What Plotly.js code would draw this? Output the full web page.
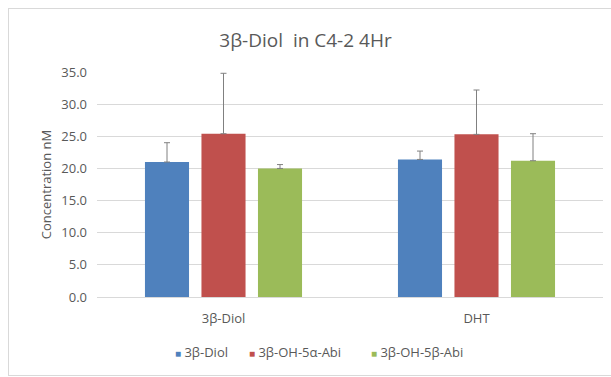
<!DOCTYPE html>
<html>
<head>
<meta charset="utf-8">
<script src="https://cdn.plot.ly/plotly-3.0.1.min.js"></script>
<style>
html,body{margin:0;padding:0;background:#fff;overflow:hidden;}
#frame{position:absolute;left:8px;top:8px;width:700px;height:368px;border:1px solid #d9d9d9;box-sizing:border-box;pointer-events:none;z-index:10;}
#chart{position:absolute;left:0;top:0;width:611px;height:377px;}
</style>
</head>
<body>
<div id="chart"></div>
<div id="frame"></div>
<script>
const categories = ["3β-Diol", "DHT"];
const seriesNames = ["3β-Diol", "3β-OH-5α-Abi", "3β-OH-5β-Abi"];
const diolValues = [21.0, 21.4];
const alphaValues = [25.4, 25.3];
const betaValues = [20.0, 21.2];
const diolErr = [3.0, 1.3];
const alphaErr = [9.4, 6.9];
const betaErr = [0.6, 4.2];
const tickVals = [0, 5, 10, 15, 20, 25, 30, 35];
const tickText = ["0.0", "5.0", "10.0", "15.0", "20.0", "25.0", "30.0", "35.0"];
const colors = ["#4F81BD", "#C0504D", "#9BBB59"];
const legendX = [0.150, 0.296, 0.538];

const allValues = [diolValues, alphaValues, betaValues];
const allErr = [diolErr, alphaErr, betaErr];

const traces = seriesNames.map((name, i) => ({
  type: "bar",
  name: name,
  x: categories,
  y: allValues[i],
  marker: {color: colors[i]},
  error_y: {
    type: "data",
    symmetric: false,
    array: allErr[i],
    arrayminus: allErr[i].map(() => 0),
    color: "#808080",
    thickness: 1,
    width: 3
  },
  hoverinfo: "none"
}));

const legendAnnotations = seriesNames.map((name, i) => ({
  xref: "paper", yref: "paper",
  x: legendX[i], y: -0.244,
  xanchor: "left", yanchor: "middle",
  showarrow: false,
  text: '<span style="color:' + colors[i] + ';font-size:10px">■</span> ' + name,
  font: {size: 13, color: "#595959", family: "Open Sans, sans-serif"}
}));

const layout = {
  width: 611,
  height: 377,
  margin: {l: 97, r: 8, t: 72, b: 80},
  paper_bgcolor: "#ffffff",
  plot_bgcolor: "#ffffff",
  font: {family: "Open Sans, sans-serif", color: "#595959", size: 13},
  title: {
    text: "3β-Diol  in C4-2 4Hr",
    font: {size: 19, color: "#595959"},
    x: 0.5, xanchor: "center",
    y: 0.894, yanchor: "middle"
  },
  barmode: "group",
  bargap: 0.33,
  bargroupgap: 0.22,
  showlegend: false,
  annotations: legendAnnotations,
  xaxis: {
    type: "category",
    showgrid: false,
    showline: true,
    linecolor: "#d9d9d9",
    linewidth: 1,
    ticks: "",
    ticklabelstandoff: 9,
    tickfont: {size: 13, color: "#595959"},
    zeroline: false
  },
  yaxis: {
    range: [0, 35],
    tickvals: tickVals,
    ticktext: tickText,
    showgrid: true,
    gridcolor: "#d9d9d9",
    gridwidth: 1,
    zeroline: false,
    showline: false,
    ticks: "",
    ticklabelstandoff: 9,
    tickfont: {size: 13, color: "#595959"},
    title: {text: "Concentration nM", font: {size: 13, color: "#595959"}, standoff: 6}
  }
};

Plotly.newPlot("chart", traces, layout, {displayModeBar: false, staticPlot: true});
</script>
</body>
</html>
